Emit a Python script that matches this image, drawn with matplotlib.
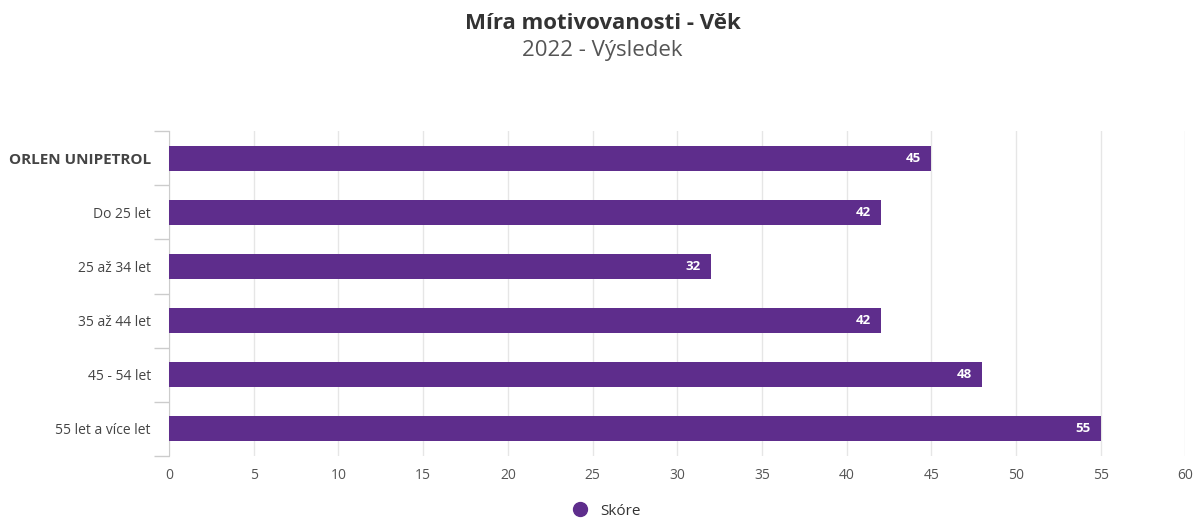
import numpy as np
import matplotlib
matplotlib.use("Agg")
import matplotlib.pyplot as plt
from matplotlib.lines import Line2D

categories = ["ORLEN UNIPETROL", "Do 25 let", "25 až 34 let", "35 až 44 let",
              "45 - 54 let", "55 let a více let"]
scores = [45, 42, 32, 42, 48, 55]
xticks = [0, 5, 10, 15, 20, 25, 30, 35, 40, 45, 50, 55, 60]

purple = "#5e2d8c"
plt.rcParams['font.family'] = ['Open Sans', 'DejaVu Sans']

fig = plt.figure(figsize=(11.93, 5.18), dpi=100)
ax = fig.add_axes([0.1417, 0.1197, 0.852, 0.627])

y = np.arange(len(categories))
ax.barh(y, scores, height=0.46, color=purple, zorder=3)
for yi, v in zip(y, scores):
    ax.text(v - 0.6, yi, str(v), ha='right', va='center', color='white',
            fontsize=9.5, fontweight='bold', zorder=4)

ax.set_xlim(0, 60)
ax.set_ylim(len(categories) - 0.5, -0.5)
ax.set_xticks(xticks)
ax.set_xticklabels([str(t) for t in xticks], color='#555555', fontsize=10)
ax.set_yticks(y)
ax.set_yticklabels(categories, color='#444444', fontsize=10)
ax.get_yticklabels()[0].set_fontweight('bold')
ax.get_yticklabels()[0].set_fontsize(11)
ax.tick_params(axis='y', length=0, pad=13)
ax.tick_params(axis='x', length=0, pad=9)
ax.set_yticks(np.arange(-0.5, len(categories), 1), minor=True)
ax.tick_params(axis='y', which='minor', length=11, color='#cccccc', width=1)

ax.grid(axis='x', color='#e6e6e6', linewidth=1, zorder=0)
for s in ['top', 'right', 'bottom']:
    ax.spines[s].set_visible(False)
ax.spines['left'].set_color('#cccccc')

fig.text(0.505, 0.955, "Míra motivovanosti - Věk", ha='center', va='center',
         fontsize=16, fontweight='bold', color='#333333')
fig.text(0.505, 0.903, "2022 - Výsledek", ha='center', va='center',
         fontsize=16, color='#555555')

handle = Line2D([], [], marker='o', linestyle='none', markersize=10,
                markerfacecolor=purple, markeredgecolor=purple)
fig.legend([handle], ["Skóre"], loc='center', bbox_to_anchor=(0.505, 0.013),
           frameon=False, fontsize=11, handletextpad=0.3,
           labelcolor='#333333')

fig.savefig("out.png", dpi=100)
